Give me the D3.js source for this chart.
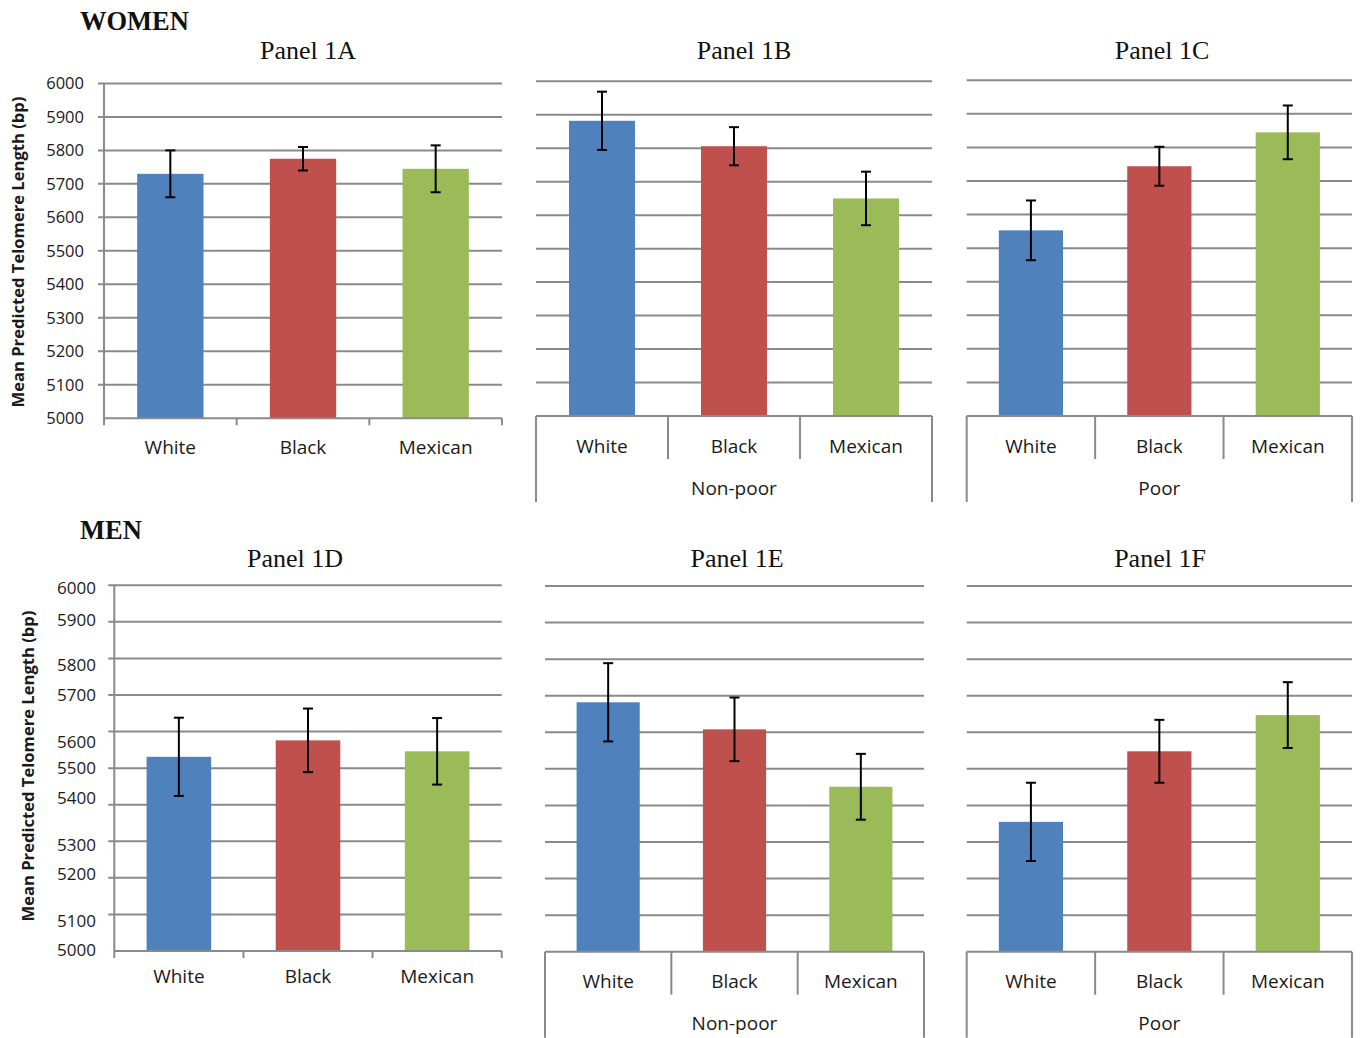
<!DOCTYPE html>
<html>
<head>
<meta charset="utf-8">
<script src="https://cdn.jsdelivr.net/npm/d3@7"></script>
<style>
  html, body { margin: 0; padding: 0; background: #fff; }
  svg { display: block; }
</style>
</head>
<body>
<svg id="chart" width="1360" height="1038"></svg>
<script>
// ---- data ----
const categories = ["White", "Black", "Mexican"];
const yTicks = [5000, 5100, 5200, 5300, 5400, 5500, 5600, 5700, 5800, 5900, 6000];

// Mean predicted telomere length (bp) and error-bar half widths
const womenAll       = [5730, 5775, 5745];
const womenAllErr    = [70, 35, 70];
const womenNonPoor    = [5882, 5806, 5650];
const womenNonPoorErr = [87, 57, 80];
const womenPoor       = [5553, 5744, 5845];
const womenPoorErr    = [89, 58, 80];

const menAll        = [5531, 5576, 5546];
const menAllErr     = [107, 87, 91];
const menNonPoor    = [5682, 5608, 5451];
const menNonPoorErr = [107, 87, 90];
const menPoor       = [5355, 5548, 5647];
const menPoorErr    = [107, 86, 90];

// ---- styling ----
const colors = ["#4F81BD", "#C0504D", "#9BBB59"];
const gridColor = "#8a8a8a";
const textColor = "#1a1a1a";
const sans = "'Open Sans', sans-serif";
const serif = "'Liberation Serif', 'Times New Roman', serif";

// The men's value axis labels sit slightly off their gridlines (px shift per tick)
const menTickLabelShift = [-1, 7, -4, 4, -7, 0, 10, 0, 7, -2, 3];

const svg = d3.select("#chart");

const panels = [
  { title: "Panel 1A", titleX: 308, titleY: 59, values: womenAll, errs: womenAllErr,
    x: [104, 502], y: [418.3, 83.4], yLabels: true, labelX: 84, labelSize: 16.5, group: null, catDy: 29 },
  { title: "Panel 1B", titleX: 744, titleY: 59, values: womenNonPoor, errs: womenNonPoorErr,
    x: [536, 932], y: [416, 81.3], yLabels: false, group: "Non-poor" },
  { title: "Panel 1C", titleX: 1162, titleY: 59, values: womenPoor, errs: womenPoorErr,
    x: [966.7, 1352], y: [416, 80.3], yLabels: false, group: "Poor" },
  { title: "Panel 1D", titleX: 295, titleY: 567, values: menAll, errs: menAllErr,
    x: [114.3, 501.7], y: [951, 585.3], yLabels: true, labelX: 96, labelSize: 17, shifts: menTickLabelShift, group: null, catDy: 25 },
  { title: "Panel 1E", titleX: 737, titleY: 567, values: menNonPoor, errs: menNonPoorErr,
    x: [545, 924], y: [951.7, 586], yLabels: false, group: "Non-poor" },
  { title: "Panel 1F", titleX: 1160, titleY: 567, values: menPoor, errs: menPoorErr,
    x: [966.7, 1352], y: [951.7, 586], yLabels: false, group: "Poor" }
];

function drawPanel(p) {
  const g = svg.append("g");
  const x = d3.scaleBand().domain(categories).range(p.x).paddingInner(0.5).paddingOuter(0.25);
  const slot = d3.scaleBand().domain(categories).range(p.x);
  const y = d3.scaleLinear().domain([5000, 6000]).range(p.y);
  const bottom = y(5000);

  // title
  g.append("text")
    .attr("x", p.titleX).attr("y", p.titleY)
    .attr("text-anchor", "middle")
    .style("font-family", serif).style("font-size", "26px").style("fill", "#111")
    .text(p.title);

  // gridlines (plus outside ticks when there is a value axis)
  const ext = p.yLabels ? 6 : 0;
  g.append("g").selectAll("line").data(yTicks.slice(1)).join("line")
    .attr("x1", p.x[0] - ext).attr("x2", p.x[1])
    .attr("y1", d => y(d)).attr("y2", d => y(d))
    .attr("stroke", gridColor).attr("stroke-width", 2);

  if (p.yLabels) {
    // value axis line and labels
    g.append("line")
      .attr("x1", p.x[0]).attr("x2", p.x[0])
      .attr("y1", y(6000)).attr("y2", bottom)
      .attr("stroke", gridColor).attr("stroke-width", 2);
    g.append("g").selectAll("text").data(yTicks).join("text")
      .attr("x", p.labelX)
      .attr("y", (d, i) => y(d) + (p.shifts ? p.shifts[i] : 0))
      .attr("dy", "0.35em")
      .attr("text-anchor", "end")
      .style("font-family", sans).style("font-size", p.labelSize + "px").style("fill", textColor)
      .text(d => d);
  }

  // bars
  g.append("g").selectAll("rect").data(p.values).join("rect")
    .attr("x", (d, i) => x(categories[i]))
    .attr("width", x.bandwidth())
    .attr("y", d => y(d))
    .attr("height", d => bottom - y(d))
    .attr("fill", (d, i) => colors[i]);

  // error bars
  const eb = g.append("g").attr("stroke", "#000").attr("stroke-width", 2);
  p.values.forEach((v, i) => {
    const cx = x(categories[i]) + x.bandwidth() / 2;
    const hi = y(v + p.errs[i]), lo = y(v - p.errs[i]);
    eb.append("line").attr("x1", cx).attr("x2", cx).attr("y1", hi).attr("y2", lo);
    eb.append("line").attr("x1", cx - 5).attr("x2", cx + 5).attr("y1", hi).attr("y2", hi);
    eb.append("line").attr("x1", cx - 5).attr("x2", cx + 5).attr("y1", lo).attr("y2", lo);
  });

  // category axis line
  g.append("line")
    .attr("x1", p.x[0]).attr("x2", p.x[1])
    .attr("y1", bottom).attr("y2", bottom)
    .attr("stroke", gridColor).attr("stroke-width", 2);

  const bounds = [p.x[0], ...categories.map(c => slot(c) + slot.bandwidth())];

  if (!p.group) {
    g.append("g").selectAll("line").data(bounds).join("line")
      .attr("x1", d => d).attr("x2", d => d)
      .attr("y1", bottom).attr("y2", bottom + 7)
      .attr("stroke", gridColor).attr("stroke-width", 2);
    g.append("g").selectAll("text").data(categories).join("text")
      .attr("x", d => slot(d) + slot.bandwidth() / 2)
      .attr("y", bottom + p.catDy).attr("dy", "0.35em")
      .attr("text-anchor", "middle")
      .style("font-family", sans).style("font-size", "19px").style("fill", textColor)
      .text(d => d);
  } else {
    // two-level category axis: race row, then income group row
    g.append("g").selectAll("line").data(bounds).join("line")
      .attr("x1", d => d).attr("x2", d => d)
      .attr("y1", bottom)
      .attr("y2", (d, i) => (i === 0 || i === bounds.length - 1) ? bottom + 86 : bottom + 43)
      .attr("stroke", gridColor).attr("stroke-width", 2);
    g.append("g").selectAll("text").data(categories).join("text")
      .attr("x", d => slot(d) + slot.bandwidth() / 2)
      .attr("y", bottom + 30).attr("dy", "0.35em")
      .attr("text-anchor", "middle")
      .style("font-family", sans).style("font-size", "19px").style("fill", textColor)
      .text(d => d);
    g.append("text")
      .attr("x", (p.x[0] + p.x[1]) / 2)
      .attr("y", bottom + 72).attr("dy", "0.35em")
      .attr("text-anchor", "middle")
      .style("font-family", sans).style("font-size", "19px").style("fill", textColor)
      .text(p.group);
  }
}

panels.forEach(drawPanel);

// section headings
[["WOMEN", 30], ["MEN", 539]].forEach(([t, yy]) => {
  svg.append("text").attr("x", 80).attr("y", yy)
    .style("font-family", serif).style("font-weight", "bold").style("font-size", "26.5px")
    .style("fill", "#111").text(t);
});

// value axis titles
[[18, 252], [28, 766]].forEach(([xx, yy]) => {
  svg.append("text")
    .attr("transform", `translate(${xx},${yy}) rotate(-90)`)
    .attr("text-anchor", "middle").attr("dy", "0.35em")
    .style("font-family", sans).style("font-weight", "bold").style("font-size", "16.6px")
    .style("fill", textColor)
    .text("Mean Predicted Telomere Length (bp)");
});
</script>
</body>
</html>
